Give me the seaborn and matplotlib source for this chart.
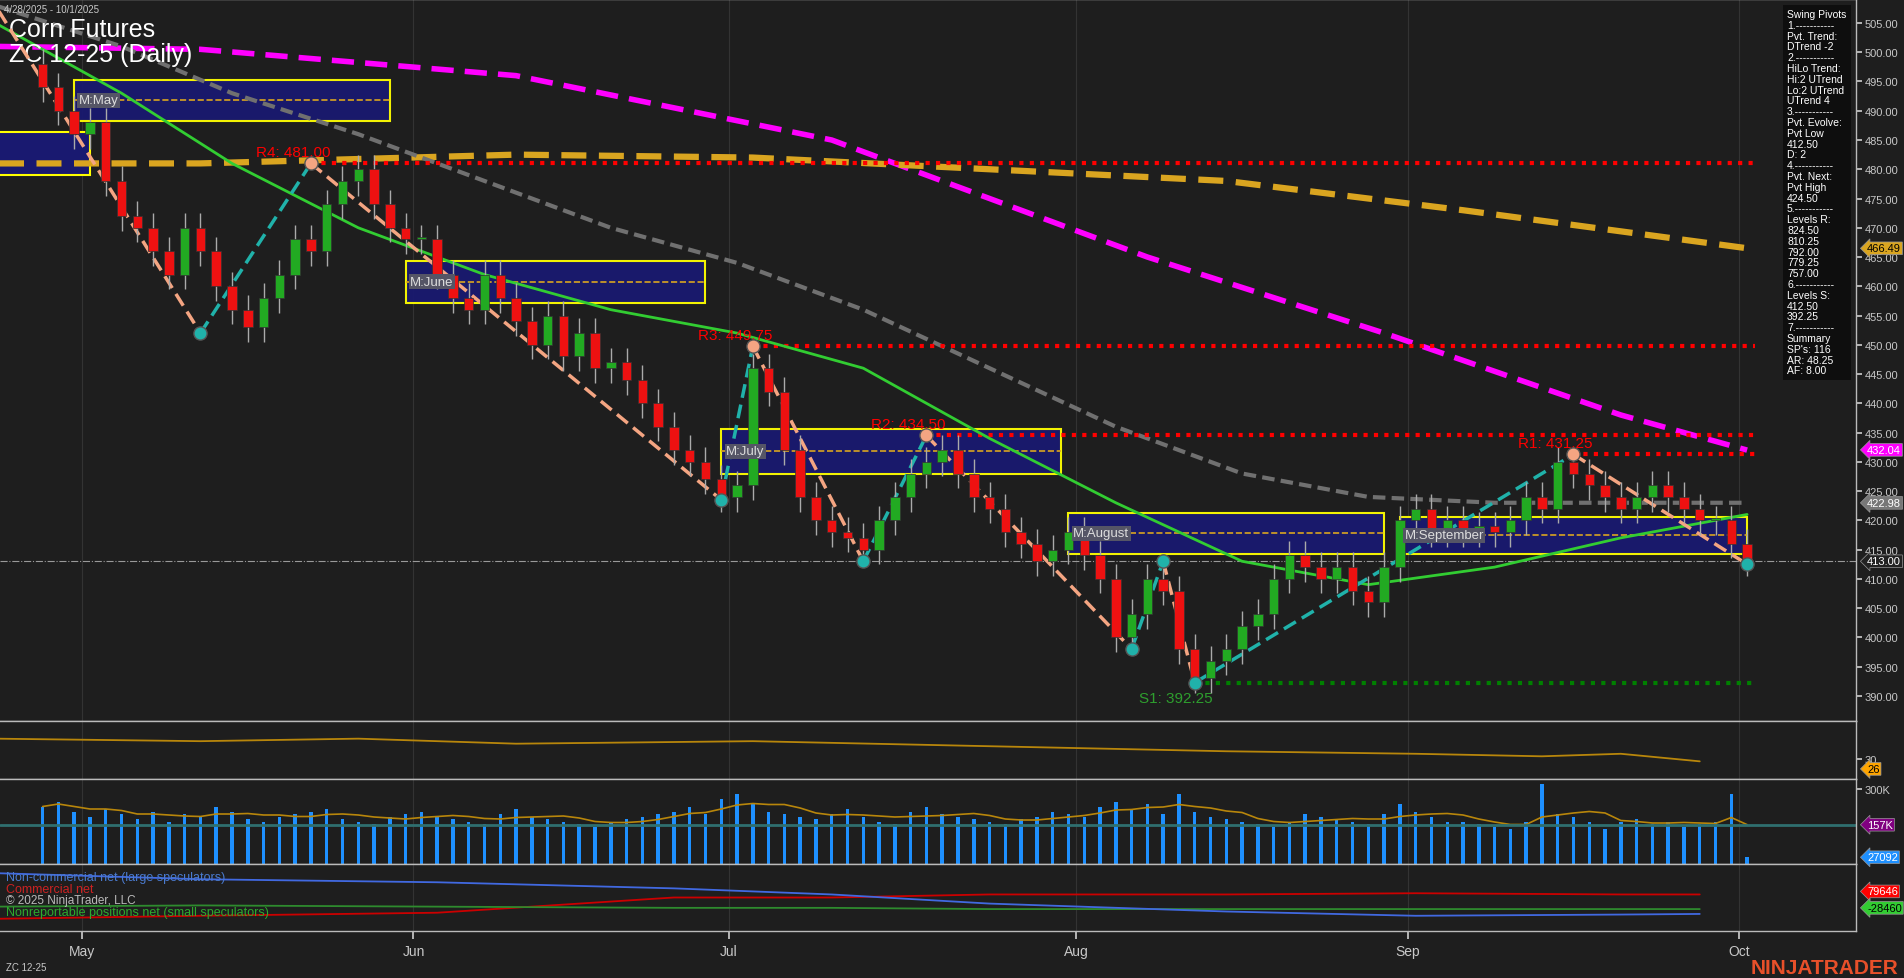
import numpy as np
import pandas as pd
import matplotlib
matplotlib.use("Agg")
import matplotlib.pyplot as plt
import seaborn as sns

sns.set_theme(style="dark")
plt.rcParams['font.family'] = ['Liberation Sans', 'DejaVu Sans']

# ---------------- data ----------------
closes = [494, 490, 486,
          488, 478, 472, 470, 466, 462, 470, 466, 460, 456, 453, 458, 462, 468, 466, 474, 478, 480, 474, 470, 468,
          468, 462, 458, 456, 462, 458, 454, 450, 455, 448, 452, 446, 447, 444, 440, 436, 432, 430, 427, 424,
          426, 446, 442, 432, 424, 420, 418, 417, 415, 420, 424, 428, 430, 432, 428, 424, 422, 418, 416, 413, 415, 418,
          414, 410, 400, 404, 410, 408, 398, 393, 396, 398, 402, 404, 410, 414, 412, 410, 412, 408, 406, 412, 420,
          422, 418, 420, 418, 419, 418, 420, 424, 422, 430, 428, 426, 424, 422, 424, 426, 424, 422, 420, 420, 416,
          413]
opens = [498] + closes[:-1]
volume_k = [230, 250, 210, 190, 220, 200, 180, 210, 170, 200, 190, 230, 210, 180, 170, 190, 200, 210, 220, 180,
            170, 160, 190, 200, 210, 190, 180, 170, 160, 200, 220, 190, 180, 170, 160, 150, 170, 180, 190, 200,
            210, 230, 200, 260, 280, 240, 210, 200, 190, 180, 200, 220, 190, 170, 160, 210, 230, 200, 190, 180,
            170, 160, 180, 190, 210, 200, 190, 230, 250, 220, 240, 200, 280, 210, 190, 180, 170, 160, 150, 170,
            200, 190, 180, 170, 160, 200, 240, 210, 190, 170, 170, 160, 150, 140, 170, 320, 200, 190, 170, 140,
            170, 180, 160, 170, 150, 160, 170, 280, 27]
ma_idx = [-3, 5, 12, 20, 28, 36, 44, 52, 60, 68, 76, 84, 92, 100, 108]
ma_green = [505, 493, 481, 470, 462, 456, 452, 446, 434, 423, 413, 409, 412, 417, 421]
ma_grey = [508, 501, 493, 486, 478, 470, 464, 456, 446, 436, 428, 424, 423, 423, 423]
ma_magenta_x = [-3, 10, 30, 50, 70, 85, 100, 108]
ma_magenta = [501, 500.5, 496, 485, 465, 452, 438, 432]
ma_orange_x = [-3, 10, 30, 45, 60, 75, 90, 108]
ma_orange = [481, 481, 482.5, 482, 480, 478, 473, 466.5]
pivot_x = [-3, 10, 17, 43, 45, 52, 56, 69, 71, 73, 97, 108]
pivot_y = [508, 452, 481, 423.5, 449.75, 413, 434.5, 398, 413, 392.25, 431.25, 412.5]
pivot_low = [452, 423.5, 413, 398, 392.25, 412.5]
boxes = [("M:May", 2, 22, 488.3, 495.3), ("M:June", 23, 42, 457.2, 464.4),
         ("M:July", 43, 64.5, 428.0, 435.6), ("M:August", 65, 85, 414.2, 421.3),
         ("M:September", 86, 108, 414.3, 420.6)]
levels_r = [("R4: 481.00", 17, 481.0), ("R3: 449.75", 45, 449.75), ("R2: 434.50", 56, 434.5), ("R1: 431.25", 97, 431.25)]
level_s = ("S1: 392.25", 73, 392.25)
adx_x = [-3, 10, 20, 30, 45, 60, 75, 87, 95, 100, 105]
adx = [38, 37, 38, 36, 37, 35, 33, 32, 31, 32, 29]
cot_x = [-3, 10, 25, 40, 50, 60, 75, 87, 100, 105]
cot_red = [20, 25, 30, 55, 55, 60, 60, 62, 60, 60]
cot_green = [40, 42, 40, 38, 38, 36, 36, 36, 36, 36]
cot_blue = [95, 85, 80, 70, 60, 45, 32, 25, 27, 28]
month_x = [2.5, 23.5, 43.5, 65.5, 86.5, 107.5]
month_lbl = ["May", "Jun", "Jul", "Aug", "Sep", "Oct"]

BG = "#1e1e1e"
TXT = "#c8c8c8"
W, H = 1904, 979
fig = plt.figure(figsize=(W / 100, H / 100), dpi=100, facecolor=BG)
AXR = 1856 / W
def mk(top, bot):
    ax = fig.add_axes([0, 1 - bot / H, AXR, (bot - top) / H], facecolor=BG)
    ax.set_xlim(-2.7, 114.9)
    for s in ax.spines.values():
        s.set_color("#bbbbbb"); s.set_linewidth(1)
    ax.spines['left'].set_visible(False)
    ax.yaxis.tick_right()
    ax.tick_params(axis='y', colors=TXT, labelsize=8, length=4, pad=2, right=True, left=False)
    ax.tick_params(axis='x', bottom=False, labelbottom=False)
    ax.grid(False)
    for m in month_x:
        ax.axvline(m, color="#333333", lw=0.8, zorder=0)
    return ax

def tag(a, val, lab, fc, tc):
    a.annotate(lab, xy=(1.006, val), xycoords=('axes fraction', 'data'), color=tc, fontsize=8,
               va="center", ha="left", zorder=10, annotation_clip=False,
               bbox=dict(boxstyle="larrow,pad=0.12", facecolor=fc, edgecolor="#999999", lw=0.5))

ax = mk(0, 722)
ax.set_ylim(385.7, 509.1)
ax.set_yticks(np.arange(390, 506, 5))
ax.set_yticklabels([f"{v:.2f}" for v in np.arange(390, 506, 5)])

idx = np.arange(len(closes))
sns.lineplot(x=ma_magenta_x, y=ma_magenta, ax=ax, color="#ff00ff", lw=4, linestyle=(0, (4, 2)), zorder=2)
sns.lineplot(x=ma_orange_x, y=ma_orange, ax=ax, color="#daa520", lw=4.5, linestyle=(0, (4, 2)), zorder=2)
sns.lineplot(x=ma_idx, y=ma_grey, ax=ax, color="#707070", lw=3, linestyle=(0, (3, 1.5)), zorder=2)
sns.lineplot(x=ma_idx, y=ma_green, ax=ax, color="#32cd32", lw=2, zorder=3)

for name, x0, x1, lo, hi in boxes:
    ax.add_patch(plt.Rectangle((x0, lo), x1 - x0, hi - lo, facecolor="#191970", edgecolor="yellow", lw=1.5, alpha=0.95, zorder=1))
    ax.plot([x0, x1], [(lo + hi) / 2] * 2, color="#daa520", ls="--", lw=1.2, zorder=1)
    ax.text(x0 + 0.3, (lo + hi) / 2, name, color="#dddddd", fontsize=9.5, va="center", zorder=6,
            bbox=dict(facecolor="#555566", edgecolor="none", pad=1))
ax.add_patch(plt.Rectangle((-5, 479.0), 8.0, 7.3, facecolor="#191970", edgecolor="yellow", lw=1.5, zorder=1))

for lbl, x0, y in levels_r:
    ax.plot([x0, 108.5], [y, y], color="red", ls=(0, (1, 1.5)), lw=3, zorder=2)
    ax.text(x0 - 3.5, y + 1.2, lbl, color="red", fontsize=11, zorder=6)
ax.plot([level_s[1], 108.5], [level_s[2]] * 2, color="green", ls=(0, (1, 1.5)), lw=3)
ax.text(level_s[1] - 3.5, level_s[2] - 3.3, level_s[0], color="#2e9e2e", fontsize=11)
ax.axhline(413.0, color="#999999", ls="-.", lw=0.8)

for i in range(len(pivot_x) - 1):
    up = pivot_y[i + 1] > pivot_y[i]
    ax.plot(pivot_x[i:i + 2], pivot_y[i:i + 2], color="#20b2aa" if up else "#f4a582",
            ls=(0, (4, 2)), lw=2.5, zorder=4)
for px, py in zip(pivot_x[1:], pivot_y[1:]):
    ax.scatter([px], [py], s=90, color="#20b2aa" if py in pivot_low else "#f4a582",
               edgecolor="#555555", zorder=7)

for i, o, c in zip(idx, opens, closes):
    col = "#22aa22" if c >= o else "#ee1111"
    lo_, hi_ = min(o, c), max(o, c)
    ax.vlines(i, lo_ - 2.5, hi_ + 2.5, color="#aaaaaa", lw=1, zorder=5)
    ax.bar(i, max(hi_ - lo_, 0.4), bottom=lo_, width=0.6, color=col, edgecolor="#333333", lw=0.5, zorder=5)

ax.text(0.005, 0.975, "Corn Futures", transform=ax.transAxes, color="white", fontsize=18, va="top")
ax.text(0.005, 0.94, "ZC 12-25 (Daily)", transform=ax.transAxes, color="white", fontsize=18, va="top")
fig.text(0.002, 0.995, "4/28/2025 - 10/1/2025", color=TXT, fontsize=7, va="top")
swing = ("Swing Pivots\n1.-----------\nPvt. Trend:\nDTrend -2\n2.-----------\nHiLo Trend:\nHi:2 UTrend\n"
         "Lo:2 UTrend\nUTrend 4\n3.-----------\nPvt. Evolve:\nPvt Low\n412.50\nD: 2\n4.-----------\n"
         "Pvt. Next:\nPvt High\n424.50\n5.-----------\nLevels R:\n824.50\n810.25\n792.00\n779.25\n757.00\n"
         "6.-----------\nLevels S:\n412.50\n392.25\n7.-----------\nSummary\nSP's: 116\nAR: 48.25\nAF: 8.00")
fig.text(1787 / W, 1 - 10 / H, swing, color="white", fontsize=7.5, va="top", linespacing=1.1,
         bbox=dict(facecolor="#0e0e0e", edgecolor="none", pad=3))
for val, fc, tc in [(466.49, "#daa520", "black"), (432.04, "#ff00ff", "white"), (422.98, "#777777", "white"), (413.00, "#222222", "white")]:
    tag(ax, val, f"{val:.2f}", fc, tc)

ax2 = mk(722, 780)
ax2.set_ylim(22, 45)
ax2.set_yticks([30]); ax2.set_yticklabels(["30"])
sns.lineplot(x=adx_x, y=adx, ax=ax2, color="#b8860b", lw=1.3)
tag(ax2, 26, "26", "orange", "black")

ax3 = mk(780, 865)
ax3.set_ylim(0, 340)
ax3.set_yticks([300]); ax3.set_yticklabels(["300K"])
ax3.bar(idx, volume_k, width=0.22, color="#1e90ff", edgecolor="none", linewidth=0)
sns.lineplot(x=idx, y=pd.Series(volume_k).rolling(5, min_periods=1).mean(), ax=ax3, color="#b8860b", lw=1.2)
ax3.axhline(157, color="#2f6f6f", lw=2)
tag(ax3, 157, "157K", "#800080", "white")
tag(ax3, 27, "27092", "#1e90ff", "white")

ax4 = mk(865, 932)
ax4.set_ylim(0, 110)
ax4.set_yticks([])
sns.lineplot(x=cot_x, y=cot_red, ax=ax4, color="#cc0000", lw=1.3)
sns.lineplot(x=cot_x, y=cot_green, ax=ax4, color="#2e8b2e", lw=1.3)
sns.lineplot(x=cot_x, y=cot_blue, ax=ax4, color="#4169e1", lw=1.3)
ax4.text(0.003, 0.9, "Non-commercial net (large speculators)", transform=ax4.transAxes, color="#4a7bd0", fontsize=9, va="top")
ax4.text(0.003, 0.72, "Commercial net", transform=ax4.transAxes, color="#cc2222", fontsize=9, va="top")
ax4.text(0.003, 0.55, "© 2025 NinjaTrader, LLC", transform=ax4.transAxes, color="#bbbbbb", fontsize=8.5, va="top")
ax4.text(0.003, 0.38, "Nonreportable positions net (small speculators)", transform=ax4.transAxes, color="#2eaa2e", fontsize=9, va="top")
tag(ax4, 65, "79646", "red", "white")
tag(ax4, 38, "-28460", "#32cd32", "black")
ax4.tick_params(axis='x', bottom=True, labelbottom=True, colors=TXT, labelsize=10)
ax4.set_xticks(month_x); ax4.set_xticklabels(month_lbl)
for a in (ax, ax2, ax3, ax4):
    a.set_xlabel(""); a.set_ylabel("")
fig.text(0.003, 0.008, "ZC 12-25", color=TXT, fontsize=7)
fig.text(0.997, 0.005, "NINJATRADER", color="#e8502a", fontsize=15, fontweight="bold", ha="right")

fig.savefig("out.png", dpi=100, facecolor=BG)
